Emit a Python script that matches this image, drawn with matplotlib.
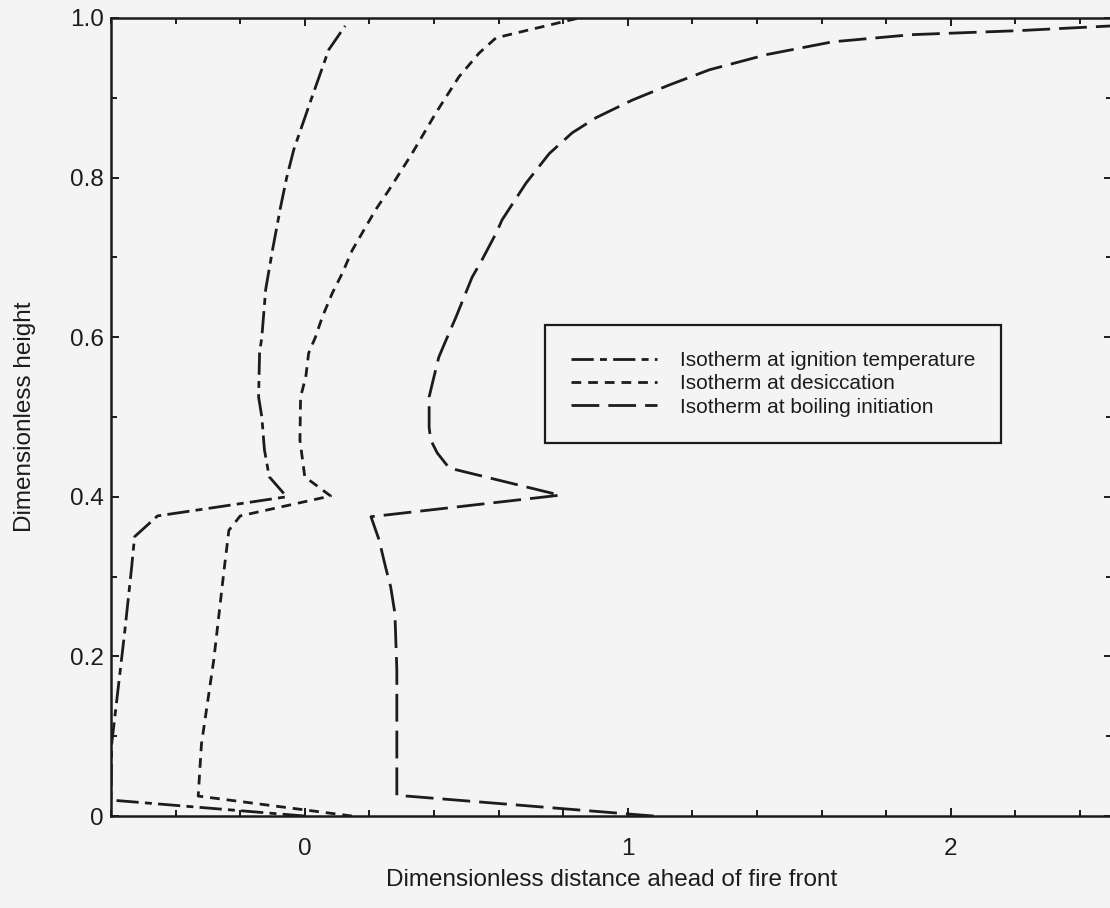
import matplotlib
matplotlib.use("Agg")
import matplotlib.pyplot as plt
from matplotlib.ticker import MultipleLocator

plt.rcParams['font.family'] = ['Liberation Sans', 'DejaVu Sans']
plt.rcParams['lines.scale_dashes'] = False

# isotherm positions (distance ahead of front, height)
ign_x = [0.0, -0.6, -0.598, -0.558, -0.536, -0.527, -0.456, -0.056, -0.11, -0.125,
         -0.133, -0.143, -0.14, -0.133, -0.121, -0.10, -0.075, -0.056, -0.034,
         0.019, 0.074, 0.125]
ign_y = [0.0, 0.02, 0.09, 0.229, 0.312, 0.35, 0.376, 0.40, 0.425, 0.459,
         0.50, 0.525, 0.58, 0.60, 0.66, 0.709, 0.763, 0.80, 0.835,
         0.897, 0.96, 0.99]

des_x = [0.146, -0.33, -0.32, -0.282, -0.25, -0.235, -0.2, 0.08, 0.0, -0.015,
         -0.013, 0.003, 0.012, 0.033, 0.054, 0.085, 0.116, 0.147, 0.177, 0.22,
         0.26, 0.332, 0.406, 0.477, 0.54, 0.592, 0.695, 0.85]
des_y = [0.0, 0.025, 0.09, 0.195, 0.308, 0.358, 0.376, 0.401, 0.425, 0.471,
         0.525, 0.55, 0.58, 0.60, 0.625, 0.655, 0.68, 0.709, 0.73, 0.76,
         0.784, 0.83, 0.881, 0.926, 0.956, 0.975, 0.985, 1.0]

boil_x = [1.08, 0.285, 0.285, 0.279, 0.266, 0.25, 0.23, 0.205, 0.79, 0.447,
          0.41, 0.39, 0.385, 0.385, 0.395, 0.415, 0.437, 0.468, 0.518, 0.549,
          0.592, 0.611, 0.685, 0.757, 0.828, 0.902, 1.014, 1.129, 1.253, 1.43,
          1.634, 1.88, 2.21, 2.5]
boil_y = [0.0, 0.026, 0.183, 0.254, 0.287, 0.312, 0.346, 0.375, 0.402, 0.436,
          0.455, 0.471, 0.487, 0.525, 0.542, 0.575, 0.596, 0.625, 0.675, 0.697,
          0.73, 0.747, 0.793, 0.83, 0.856, 0.875, 0.897, 0.916, 0.935, 0.954,
          0.97, 0.979, 0.984, 0.99]

labels = ["Isotherm at ignition temperature",
          "Isotherm at desiccation",
          "Isotherm at boiling initiation"]

y_ticks = [0, 0.2, 0.4, 0.6, 0.8, 1.0]
y_ticklabels = ["0", "0.2", "0.4", "0.6", "0.8", "1.0"]
x_ticks = [0, 1, 2]
x_ticklabels = ["0", "1", "2"]

ink = '#1c1c1c'
bg = '#f4f4f4'

fig = plt.figure(figsize=(11.1, 9.08), dpi=100, facecolor=bg)
ax = fig.add_axes([0.1, 0.1013, 0.902, 0.879], facecolor=bg)

ax.plot(ign_x, ign_y, color=ink, lw=2.0, dashes=(16, 4.5, 5, 4.5), label=labels[0])
ax.plot(des_x, des_y, color=ink, lw=2.0, dashes=(7, 5), label=labels[1])
ax.plot(boil_x, boil_y, color=ink, lw=2.0, dashes=(20, 6.5), label=labels[2])

ax.set_xlim(-0.6, 2.5)
ax.set_ylim(0, 1.0)
ax.set_xticks(x_ticks)
ax.set_xticklabels(x_ticklabels)
ax.set_yticks(y_ticks)
ax.set_yticklabels(y_ticklabels)
ax.xaxis.set_minor_locator(MultipleLocator(0.2))
ax.yaxis.set_minor_locator(MultipleLocator(0.1))

ax.tick_params(which='both', direction='in', top=True, right=True,
               colors=ink, width=1.4, labelsize=17.5)
ax.tick_params(which='major', length=6)
ax.tick_params(which='minor', length=4)
ax.tick_params(axis='x', pad=16)
ax.tick_params(axis='y', pad=5)

for s in ax.spines.values():
    s.set_linewidth(1.8)
    s.set_color(ink)

ax.set_xlabel("Dimensionless distance ahead of fire front", fontsize=17.5, color=ink)
ax.set_ylabel("Dimensionless height", fontsize=17.5, color=ink)
ax.xaxis.set_label_coords(0.5, -0.066)
ax.yaxis.set_label_coords(-0.075, 0.5)

leg = ax.legend(loc='upper left', bbox_to_anchor=(0.4336, 0.615), borderaxespad=0,
                fontsize=15, handlelength=4.1, handletextpad=1.1, labelspacing=0.2,
                borderpad=1.25, fancybox=False, framealpha=1, facecolor=bg,
                edgecolor=ink)
leg.get_frame().set_linewidth(1.6)
for t in leg.get_texts():
    t.set_color(ink)

fig.savefig("out.png", dpi=100, facecolor=bg)
